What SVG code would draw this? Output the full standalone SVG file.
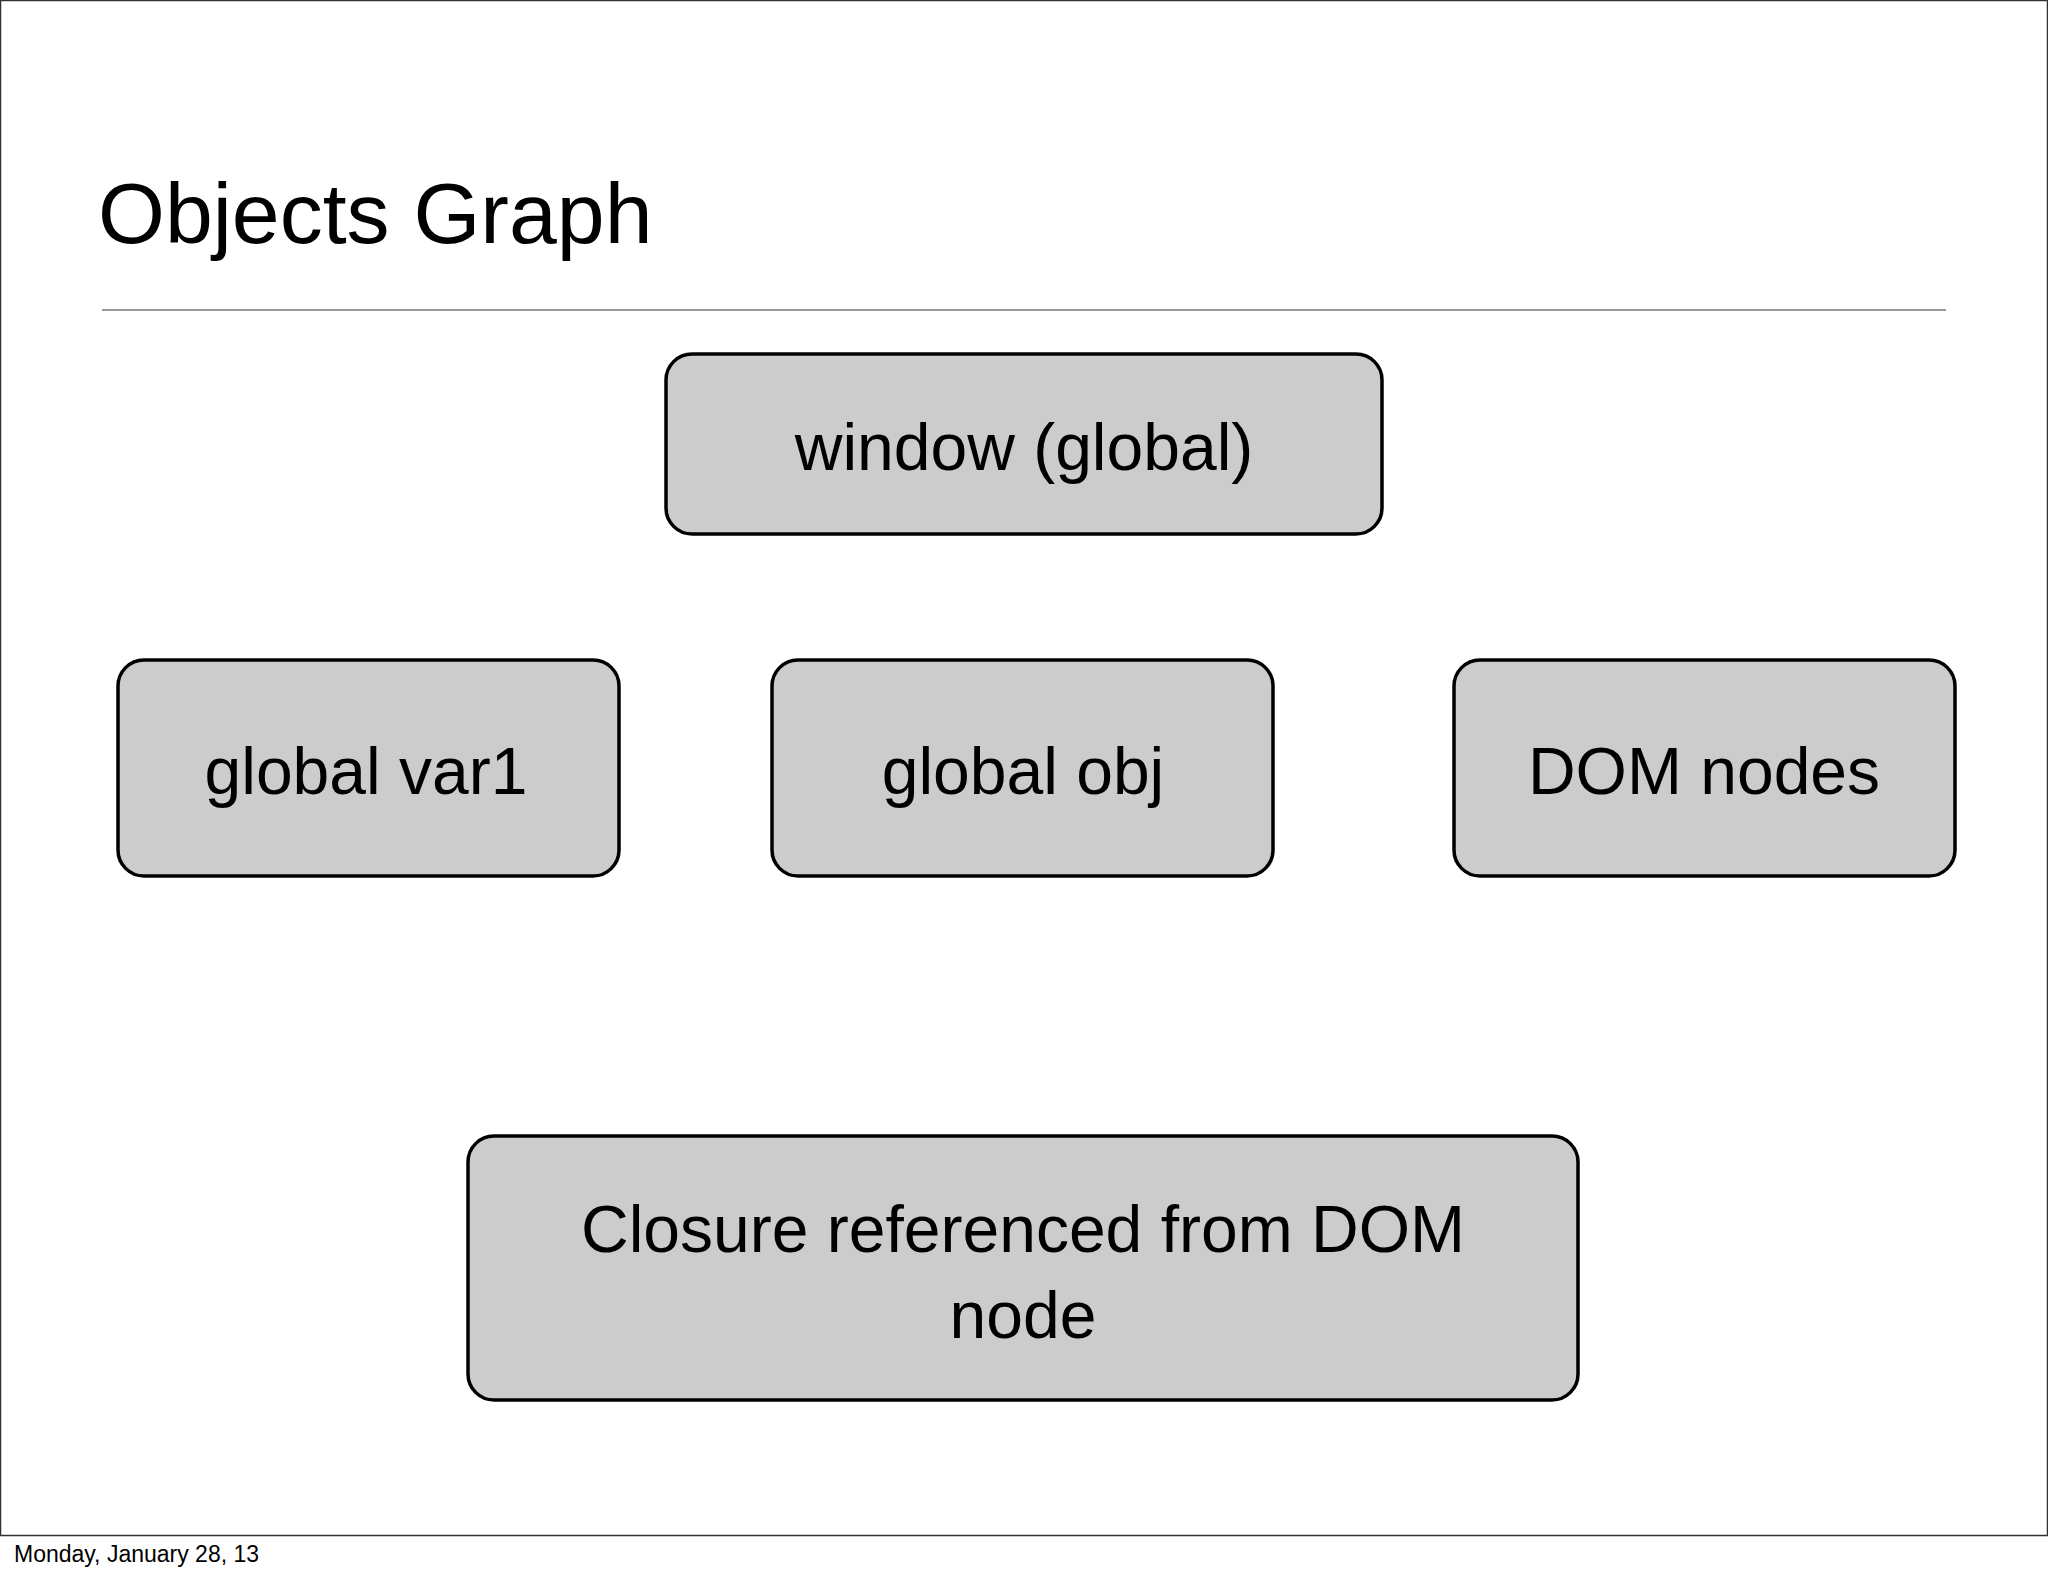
<svg xmlns="http://www.w3.org/2000/svg" width="2048" height="1576" viewBox="0 0 2048 1576">
<style>
.box{fill:#cccccc;stroke:#000;stroke-width:3.5}
.t{font-family:"Liberation Sans",Arial,sans-serif;font-size:66px;fill:#000;text-anchor:middle}
</style>
<rect x="0" y="0" width="2048" height="1576" fill="#fff"/>
<rect x="0.5" y="0.5" width="2047" height="1535" fill="none" stroke="#333" stroke-width="1.5"/>
<text x="98" y="243" font-family="Liberation Sans,Arial,sans-serif" font-size="86">Objects Graph</text>
<line x1="102" y1="310" x2="1946" y2="310" stroke="#999" stroke-width="2"/>
<text x="14" y="1562" font-family="Liberation Sans,Arial,sans-serif" font-size="23">Monday, January 28, 13</text>
<g id="connectors"></g>
<g id="window"><rect class="box" x="666" y="354" width="716" height="180" rx="26"/><text class="t" x="1024" y="470">window (global)</text></g>
<g id="var1"><rect class="box" x="118" y="660" width="501" height="216" rx="26"/><text class="t" x="366" y="794">global var1</text></g>
<g id="obj"><rect class="box" x="772" y="660" width="501" height="216" rx="26"/><text class="t" x="1023" y="794">global obj</text></g>
<g id="dom"><rect class="box" x="1454" y="660" width="501" height="216" rx="26"/><text class="t" x="1704" y="794">DOM nodes</text></g>
<g id="closure"><rect class="box" x="468" y="1136" width="1110" height="264" rx="26"/><text class="t" x="1023" y="1252">Closure referenced from DOM</text><text class="t" x="1023" y="1338">node</text></g>
</svg>
